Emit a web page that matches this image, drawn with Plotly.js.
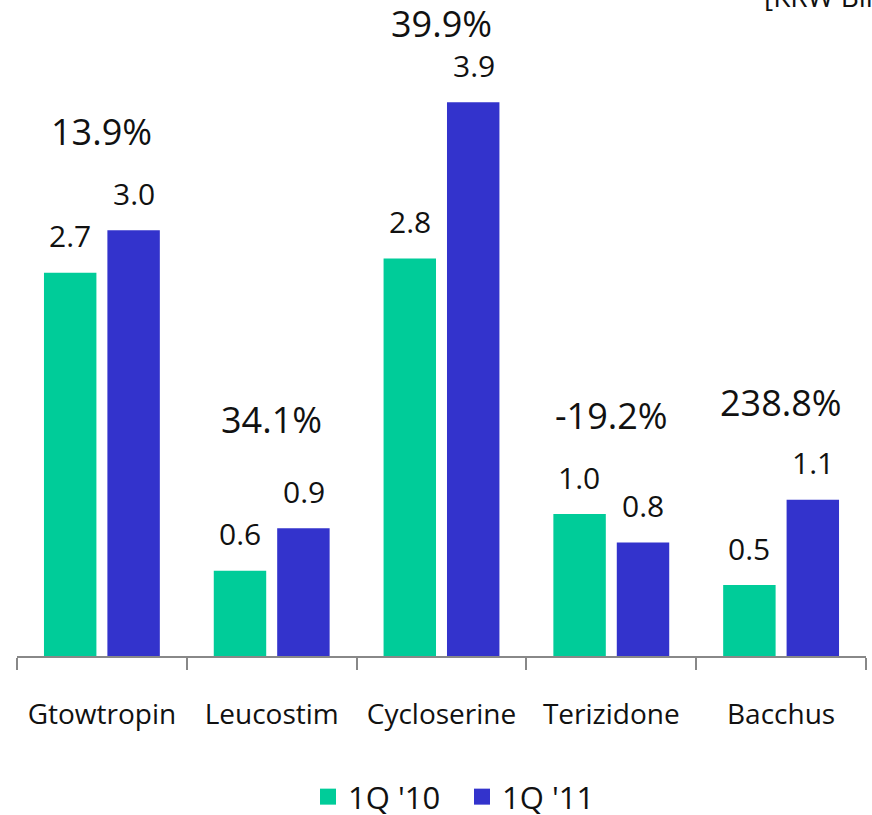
<!DOCTYPE html>
<html>
<head>
<meta charset="utf-8">
<script src="https://cdn.plot.ly/plotly-3.0.1.min.js"></script>
<style>html,body{margin:0;padding:0;background:#fff;}#chart{width:872px;height:815px;}</style>
</head>
<body>
<div id="chart"></div>
<script>
const categories = ["Gtowtropin", "Leucostim", "Cycloserine", "Terizidone", "Bacchus"];
const q1_10 = [2.7, 0.6, 2.8, 1.0, 0.5];
const q1_11 = [3.0, 0.9, 3.9, 0.8, 1.1];
const growth = ["13.9%", "34.1%", "39.9%", "-19.2%", "238.8%"];
const seriesNames = ["1Q '10", "1Q '11"];
const unitLabel = "[KRW Bil]";

const GREEN = "#00CC99";
const BLUE = "#3333CC";
const FONT = "Open Sans, Noto Sans, sans-serif";

const traces = [
  {type: "bar", name: seriesNames[0], x: categories, y: q1_10, marker: {color: GREEN}, showlegend: false, hoverinfo: "none"},
  {type: "bar", name: seriesNames[1], x: categories, y: q1_11, marker: {color: BLUE}, showlegend: false, hoverinfo: "none"},
  {type: "scatter", mode: "markers", name: seriesNames[0], x: [null], y: [null], marker: {symbol: "square", size: 16, color: GREEN}},
  {type: "scatter", mode: "markers", name: seriesNames[1], x: [null], y: [null], marker: {symbol: "square", size: 16, color: BLUE}}
];

const annotations = [];
const growthShift = [99, 109, 79, 99, 97];
categories.forEach((c, i) => {
  annotations.push({x: c, y: q1_10[i], xref: "x", yref: "y", text: q1_10[i].toFixed(1), showarrow: false,
    xshift: -32, yshift: 37, yanchor: "middle", font: {family: FONT, size: 30, color: "#111"}});
  annotations.push({x: c, y: q1_11[i], xref: "x", yref: "y", text: q1_11[i].toFixed(1), showarrow: false,
    xshift: 32, yshift: 37, yanchor: "middle", font: {family: FONT, size: 30, color: "#111"}});
  annotations.push({x: c, y: Math.max(q1_10[i], q1_11[i]), xref: "x", yref: "y", text: growth[i], showarrow: false,
    yshift: growthShift[i], yanchor: "middle", font: {family: FONT, size: 36, color: "#111"}});
});
annotations.push({x: (762 - 17) / 849, y: 1.011, xref: "paper", yref: "paper", xanchor: "left", yanchor: "middle",
  text: unitLabel, showarrow: false, font: {family: FONT, size: 28, color: "#111"}});

const layout = {
  width: 872, height: 815,
  margin: {l: 17, r: 6, t: 3, b: 159, autoexpand: false},
  paper_bgcolor: "#fff", plot_bgcolor: "#fff",
  barmode: "group", bargap: 0.253, bargroupgap: 0.173,
  font: {family: FONT, color: "#111"},
  xaxis: {type: "category", range: [-0.5, 4.5], showline: true, linecolor: "#888", linewidth: 2,
    ticks: "outside", tickson: "boundaries", ticklen: 12, tickcolor: "#888", tickwidth: 2, automargin: false,
    ticklabelstandoff: 32, tickfont: {family: FONT, size: 28, color: "#111"}, showgrid: false, zeroline: false, fixedrange: true},
  yaxis: {range: [0, 4.6], visible: false, showgrid: false, zeroline: false, fixedrange: true, automargin: false},
  showlegend: true,
  legend: {orientation: "h", x: 308 / 872, xanchor: "left", xref: "container", y: 1 - 797 / 815, yanchor: "middle", yref: "container",
    entrywidth: 109, entrywidthmode: "pixels",
    font: {family: FONT, size: 31, color: "#111"}, itemclick: false, itemdoubleclick: false},
  annotations: annotations
};

Plotly.newPlot("chart", traces, layout, {displayModeBar: false, staticPlot: true});
</script>
</body>
</html>
